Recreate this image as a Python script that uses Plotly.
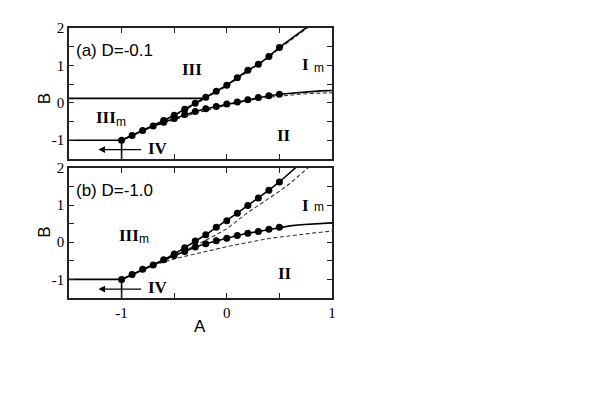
import plotly.graph_objects as go

# ---- panel (a) D=-0.1 ----
a_com_A = [-1.0, -0.9, -0.8, -0.7]
a_com_B = [-1.0, -0.87, -0.74, -0.62]
a_up_A = [-0.6, -0.5, -0.4, -0.3, -0.2, -0.1, 0.0, 0.1, 0.2, 0.3, 0.4, 0.5]
a_up_B = [-0.47, -0.33, -0.17, -0.01, 0.15, 0.31, 0.47, 0.67, 0.87, 1.03, 1.24, 1.48]
a_lo_A = [-0.6, -0.5, -0.4, -0.3, -0.2, -0.1, 0.0, 0.1, 0.2, 0.3, 0.4, 0.5]
a_lo_B = [-0.52, -0.42, -0.31, -0.23, -0.16, -0.1, -0.03, 0.02, 0.08, 0.14, 0.19, 0.23]
a_up_ext_A = [0.6, 0.7, 0.8]
a_up_ext_B = [1.68, 1.88, 2.1]
a_lo_ext_A = [0.6, 0.7, 0.8, 0.9, 1.0]
a_lo_ext_B = [0.26, 0.28, 0.3, 0.32, 0.33]
a_dup_A = [-0.7, -0.6, -0.5, -0.4, -0.3, -0.2, -0.1, 0.0, 0.1, 0.2, 0.3, 0.4, 0.5, 0.6, 0.7, 0.8]
a_dup_B = [-0.63, -0.49, -0.36, -0.2, -0.04, 0.12, 0.28, 0.45, 0.64, 0.84, 1.02, 1.22, 1.45, 1.66, 1.86, 2.07]
a_dlo_A = [-1.0, -0.9, -0.8, -0.7, -0.6, -0.5, -0.4, -0.3, -0.2, -0.1, 0.0,
           0.1, 0.2, 0.3, 0.4, 0.5, 0.6, 0.7, 0.8, 0.9, 1.0]
a_dlo_B = [-1.0, -0.87, -0.75, -0.64, -0.54, -0.45, -0.36, -0.28, -0.2, -0.13, -0.06,
           0.0, 0.06, 0.11, 0.15, 0.18, 0.21, 0.23, 0.25, 0.26, 0.27]
a_hline_A = [-1.5, -0.23]
a_hline_B = [0.12, 0.12]

# ---- panel (b) D=-1.0 ----
b_com_A = [-1.0, -0.9, -0.8, -0.7, -0.6]
b_com_B = [-1.0, -0.87, -0.73, -0.61, -0.47]
b_up_A = [-0.5, -0.4, -0.3, -0.2, -0.1, 0.0, 0.1, 0.2, 0.3, 0.4, 0.5]
b_up_B = [-0.32, -0.15, 0.03, 0.2, 0.4, 0.58, 0.78, 0.99, 1.19, 1.4, 1.62]
b_lo_A = [-0.5, -0.4, -0.3, -0.2, -0.1, 0.0, 0.1, 0.2, 0.3, 0.4, 0.5]
b_lo_B = [-0.36, -0.25, -0.13, -0.04, 0.04, 0.11, 0.18, 0.24, 0.29, 0.35, 0.4]
b_up_ext_A = [0.6, 0.7]
b_up_ext_B = [1.86, 2.12]
b_lo_ext_A = [0.6, 0.7, 0.8, 0.9, 1.0]
b_lo_ext_B = [0.44, 0.47, 0.49, 0.51, 0.52]
b_dup_A = [-0.7, -0.6, -0.5, -0.4, -0.3, -0.2, -0.1, 0.0, 0.1, 0.2, 0.3, 0.4, 0.5, 0.6, 0.7, 0.8]
b_dup_B = [-0.61, -0.5, -0.38, -0.23, -0.09, 0.05, 0.2, 0.36, 0.58, 0.8, 0.99, 1.17, 1.37, 1.58, 1.82, 2.07]
b_dlo_A = [-0.7, -0.6, -0.5, -0.4, -0.3, -0.2, -0.1, 0.0, 0.1, 0.2, 0.3, 0.4, 0.5, 0.6, 0.7, 0.8, 0.9, 1.0]
b_dlo_B = [-0.62, -0.53, -0.45, -0.38, -0.31, -0.24, -0.18, -0.12, -0.06, 0.0, 0.06, 0.1,
           0.14, 0.18, 0.21, 0.24, 0.27, 0.3]

# common boundary lines (both panels)
corner_hline_A = [-1.5, -1.0]
corner_hline_B = [-1.0, -1.0]
corner_vline_A = [-1.0, -1.0]
corner_vline_B = [-1.0, -1.5]

x_tick_vals = [-1, 0, 1]
x_tick_text = ["-1", "0", "1"]
y_tick_vals = [-1, 0, 1, 2]
y_tick_text = ["-1", "0", "1", "2"]

fig = go.Figure()


def add_panel(xa, ya, com_A, com_B, up_A, up_B, lo_A, lo_B, upx_A, upx_B,
              lox_A, lox_B, dup_A, dup_B, dlo_A, dlo_B):
    dash = dict(color="#333333", width=1.1, dash="4px,2.5px")
    solid = dict(color="black", width=1.6)
    fig.add_trace(go.Scatter(x=dup_A, y=dup_B, mode="lines", line=dash, xaxis=xa, yaxis=ya))
    fig.add_trace(go.Scatter(x=dlo_A, y=dlo_B, mode="lines", line=dash, xaxis=xa, yaxis=ya))
    fig.add_trace(go.Scatter(x=com_A + up_A + upx_A, y=com_B + up_B + upx_B,
                             mode="lines", line=solid, xaxis=xa, yaxis=ya))
    fig.add_trace(go.Scatter(x=com_A + lo_A + lox_A, y=com_B + lo_B + lox_B,
                             mode="lines", line=solid, xaxis=xa, yaxis=ya))
    fig.add_trace(go.Scatter(x=corner_hline_A, y=corner_hline_B, mode="lines", line=solid,
                             xaxis=xa, yaxis=ya))
    fig.add_trace(go.Scatter(x=corner_vline_A, y=corner_vline_B, mode="lines", line=solid,
                             xaxis=xa, yaxis=ya))
    fig.add_trace(go.Scatter(x=com_A + up_A + lo_A, y=com_B + up_B + lo_B, mode="markers",
                             marker=dict(color="black", size=7), xaxis=xa, yaxis=ya))


add_panel("x", "y", a_com_A, a_com_B, a_up_A, a_up_B, a_lo_A, a_lo_B, a_up_ext_A, a_up_ext_B,
          a_lo_ext_A, a_lo_ext_B, a_dup_A, a_dup_B, a_dlo_A, a_dlo_B)
fig.add_trace(go.Scatter(x=a_hline_A, y=a_hline_B, mode="lines",
                         line=dict(color="black", width=1.6), xaxis="x", yaxis="y"))
add_panel("x2", "y2", b_com_A, b_com_B, b_up_A, b_up_B, b_lo_A, b_lo_B, b_up_ext_A, b_up_ext_B,
          b_lo_ext_A, b_lo_ext_B, b_dup_A, b_dup_B, b_dlo_A, b_dlo_B)

axis_style = dict(
    showline=True, linecolor="#222222", linewidth=1.5, mirror="ticks",
    ticks="inside", ticklen=5, tickwidth=1, tickcolor="#222222",
    showgrid=False, zeroline=False,
    tickfont=dict(family="Liberation Serif, Times New Roman, serif", size=15, color="black"),
    minor=dict(dtick=0.5, ticks="inside", ticklen=5, tickcolor="#222222", showgrid=False),
)

# page body adds 8px offset, so margins are reduced accordingly
fig.update_layout(
    width=599, height=415,
    margin=dict(l=61, r=275, t=16, b=125),
    paper_bgcolor="white", plot_bgcolor="white",
    showlegend=False,
    xaxis=dict(axis_style, range=[-1.5, 1], tickvals=x_tick_vals, ticktext=x_tick_text,
               showticklabels=False, anchor="y", domain=[0, 1]),
    yaxis=dict(axis_style, range=[-1.5, 2], tickvals=y_tick_vals, ticktext=y_tick_text,
               anchor="x", domain=[0.515, 1]),
    xaxis2=dict(axis_style, range=[-1.5, 1], tickvals=x_tick_vals, ticktext=x_tick_text,
                anchor="y2", domain=[0, 1]),
    yaxis2=dict(axis_style, range=[-1.5, 2], tickvals=y_tick_vals, ticktext=y_tick_text,
                anchor="x2", domain=[0, 0.482]),
)

roman = dict(family="Liberation Serif, Times New Roman, serif", size=17, color="black")
sans = dict(family="Liberation Sans, Arial, sans-serif", size=12, color="black")
label_font = dict(family="Liberation Sans, Arial, sans-serif", size=17, color="black")

ann = []
# panel (a)
ann.append(dict(x=-1.45, y=1.4, xref="x", yref="y", text="(a) D=-0.1", xanchor="left",
                showarrow=False, font=label_font))
ann.append(dict(x=-0.33, y=0.9, xref="x", yref="y", text="<b>III</b>", showarrow=False, font=roman))
ann.append(dict(x=-1.15, y=-0.39, xref="x", yref="y", text="<b>III</b>", showarrow=False, font=roman))
ann.append(dict(x=-1.01, y=-0.5, xref="x", yref="y", text="m", showarrow=False, font=sans))
ann.append(dict(x=0.75, y=1.02, xref="x", yref="y", text="<b>I</b>", showarrow=False, font=roman))
ann.append(dict(x=0.876, y=0.92, xref="x", yref="y", text="m", showarrow=False, font=sans))
ann.append(dict(x=0.54, y=-0.86, xref="x", yref="y", text="<b>II</b>", showarrow=False, font=roman))
ann.append(dict(x=-0.65, y=-1.23, xref="x", yref="y", text="<b>IV</b>", showarrow=False, font=roman))
ann.append(dict(x=-1.22, y=-1.25, ax=-0.8, ay=-1.25, xref="x", yref="y", axref="x", ayref="y",
                text="", showarrow=True, arrowhead=2, arrowsize=1.2, arrowwidth=1.1,
                arrowcolor="black"))
# panel (b)
ann.append(dict(x=-1.45, y=1.38, xref="x2", yref="y2", text="(b) D=-1.0", xanchor="left",
                showarrow=False, font=label_font))
ann.append(dict(x=-0.93, y=0.19, xref="x2", yref="y2", text="<b>III</b>", showarrow=False, font=roman))
ann.append(dict(x=-0.79, y=0.09, xref="x2", yref="y2", text="m", showarrow=False, font=sans))
ann.append(dict(x=0.75, y=0.99, xref="x2", yref="y2", text="<b>I</b>", showarrow=False, font=roman))
ann.append(dict(x=0.876, y=0.94, xref="x2", yref="y2", text="m", showarrow=False, font=sans))
ann.append(dict(x=0.55, y=-0.84, xref="x2", yref="y2", text="<b>II</b>", showarrow=False, font=roman))
ann.append(dict(x=-0.65, y=-1.21, xref="x2", yref="y2", text="<b>IV</b>", showarrow=False, font=roman))
ann.append(dict(x=-1.22, y=-1.26, ax=-0.8, ay=-1.26, xref="x2", yref="y2", axref="x2", ayref="y2",
                text="", showarrow=True, arrowhead=2, arrowsize=1.2, arrowwidth=1.1,
                arrowcolor="black"))
# axis titles (paper coords relative to the plot area)
ann.append(dict(x=(44.7 - 69) / 263, y=(298 - 95.7) / 274, xref="paper", yref="paper", text="B",
                textangle=-90, showarrow=False, font=label_font,
                xanchor="center", yanchor="middle"))
ann.append(dict(x=(44.7 - 69) / 263, y=(298 - 231) / 274, xref="paper", yref="paper", text="B",
                textangle=-90, showarrow=False, font=label_font,
                xanchor="center", yanchor="middle"))
ann.append(dict(x=(200 - 69) / 263, y=(298 - 327) / 274, xref="paper", yref="paper", text="A",
                showarrow=False, font=label_font, xanchor="center", yanchor="middle"))
fig.update_layout(annotations=ann)

fig.write_html("out.html")
